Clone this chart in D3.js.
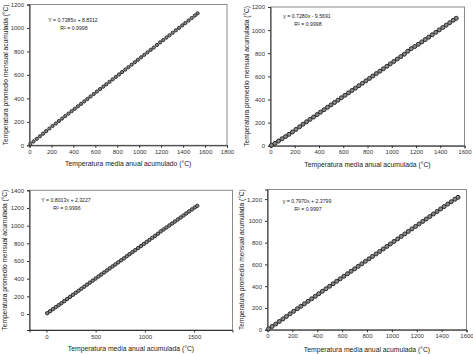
<!DOCTYPE html>
<html>
<head>
<meta charset="utf-8">
<style>
  body { margin: 0; background: #fff; }
</style>
</head>
<body>
<script src="https://cdn.jsdelivr.net/npm/d3@7"></script>
<script>
// accumulated annual mean temperature (x), shared by the four panels
var xAcum = [8, 37, 66, 95, 124, 152, 181, 210, 240, 268, 297, 326, 355, 384, 412, 441, 470, 499,
  528, 556, 585, 614, 643, 672, 700, 729, 758, 787, 816, 844, 873, 902, 931, 960, 988, 1017,
  1046, 1075, 1104, 1132, 1161, 1190, 1219, 1248, 1276, 1305, 1334, 1363, 1392, 1420, 1449, 1478, 1507, 1532];

// accumulated monthly mean temperature, one list per panel
var yPanel1 = [12, 33, 55, 77, 99, 121, 143, 165, 186, 207, 228, 249, 270, 291, 311, 332, 353, 374,
  395, 416, 437, 458, 479, 500, 520, 541, 562, 583, 604, 624, 645, 666, 687, 708, 729, 750,
  771, 792, 813, 833, 855, 877, 897, 918, 938, 959, 980, 1001, 1022, 1042, 1063, 1084, 1106, 1124];
var yPanel2 = [4, 20, 40, 60, 79, 98, 119, 141, 164, 186, 207, 228, 248, 269, 290, 311, 332, 353,
  374, 394, 415, 436, 457, 478, 498, 519, 540, 561, 582, 603, 624, 645, 666, 687, 708, 729,
  750, 771, 792, 817, 840, 858, 877, 898, 918, 939, 960, 981, 1002, 1022, 1043, 1064, 1085, 1102];
var yPanel3 = [9, 32, 55, 78, 100, 122, 146, 170, 194, 217, 240, 263, 286, 309, 332, 355, 378, 401,
  424, 447, 470, 493, 516, 539, 561, 584, 607, 630, 654, 677, 700, 723, 746, 769, 792, 815,
  838, 862, 885, 908, 935, 957, 979, 1002, 1024, 1047, 1070, 1092, 1115, 1138, 1161, 1184, 1206, 1224];
var yPanel4 = [8, 30, 52, 76, 99, 122, 146, 169, 193, 215, 238, 261, 284, 307, 330, 353, 376, 399,
  422, 445, 468, 491, 514, 537, 559, 582, 605, 628, 651, 673, 696, 719, 742, 765, 788, 811,
  834, 857, 880, 903, 926, 949, 972, 995, 1017, 1040, 1063, 1086, 1109, 1131, 1154, 1176, 1199, 1216];

// tick labels
var ticks1X = ["0", "200", "400", "600", "800", "1000", "1200", "1400", "1600", "1800"];
var ticks1Y = ["0", "200", "400", "600", "800", "1000", "1200"];
var ticks2X = ["0", "200", "400", "600", "800", "1000", "1200", "1400", "1600"];
var ticks2Y = ["0", "200", "400", "600", "800", "1000", "1200"];
var ticks3X = ["0", "500", "1000", "1500"];
var ticks3Y = ["0", "200", "400", "600", "800", "1000", "1200", "1400"];
var ticks4X = ["0", "200", "400", "600", "800", "1000", "1200", "1400", "1600"];
var ticks4Y = ["0", "200", "400", "600", "800", "1000", "1,200"];

var equations = [
  ["Y = 0.7385x + 8.8312", "R\u00b2 = 0.9998"],
  ["y = 0.7280x - 9.5691", "R\u00b2 = 0.9998"],
  ["Y = 0.8013x + 2.3227", "R\u00b2 = 0.9996"],
  ["y = 0.7970x + 2.3799", "R\u00b2 = 0.9997"]
];
var yTitle = "Temperatura promedio mensual acumulada (\u00b0C)";
var xTitles = [
  "Temperatura media anual acumulado (\u00b0C)",
  "Temperatura media anual acumulada (\u00b0C)",
  "Temperatura media anual acumulada (\u00b0C)",
  "Temperatura media anual acumulada (\u00b0C)"
];

var font = "'Liberation Sans', Arial, sans-serif";
var ink = "#222";

var svg = d3.select("body").append("svg")
  .attr("width", 473)
  .attr("height", 354);

var panels = [
  { ys: yPanel1, tx: ticks1X, ty: ticks1Y, xd: [0, 1800], yd: [0, 1200],
    xr: [29.5, 227], yr: [145.3, 4.5], ytx: 6, xty: 166, eq: [73, 22], r: 1.6 },
  { ys: yPanel2, tx: ticks2X, ty: ticks2Y, xd: [0, 1600], yd: [0, 1200],
    xr: [270.5, 464.5], yr: [145.7, 7], ytx: 247, xty: 167, eq: [307, 18], r: 2 },
  { ys: yPanel3, tx: ticks3X, ty: ticks3Y, xd: [-172, 1890], yd: [-181, 1400],
    xr: [29.5, 232.5], yr: [330, 190.3], ytx: 5, xty: 351, eq: [66, 202], r: 1.7 },
  { ys: yPanel4, tx: ticks4X, ty: ticks4Y, xd: [0, 1600], yd: [0, 1288],
    xr: [267.5, 466.5], yr: [329.7, 189.5], ytx: 242, xty: 352, eq: [307, 203], r: 2 }
];

panels.forEach(function (p, i) {
  var x = d3.scaleLinear().domain(p.xd).range(p.xr);
  var y = d3.scaleLinear().domain(p.yd).range(p.yr);
  var g = svg.append("g");

  // frame
  g.append("rect")
    .attr("x", p.xr[0]).attr("y", p.yr[1])
    .attr("width", p.xr[1] - p.xr[0]).attr("height", p.yr[0] - p.yr[1])
    .attr("fill", "none").attr("stroke", "#8a8a8a").attr("stroke-width", 1);

  var xAxis = d3.axisBottom(x)
    .tickValues(p.tx.map(function (t) { return +t.replace(",", ""); }))
    .tickFormat(function (d, k) { return p.tx[k]; })
    .tickSize(2.5).tickPadding(2);
  var yAxis = d3.axisLeft(y)
    .tickValues(p.ty.map(function (t) { return +t.replace(",", ""); }))
    .tickFormat(function (d, k) { return p.ty[k]; })
    .tickSize(2.5).tickPadding(3);

  var gx = g.append("g").attr("transform", "translate(0," + p.yr[0] + ")").call(xAxis);
  var gy = g.append("g").attr("transform", "translate(" + p.xr[0] + ",0)").call(yAxis);
  [gx, gy].forEach(function (a) {
    a.select(".domain").attr("stroke", "#333");
    a.selectAll(".tick line").attr("stroke", "#333");
    a.selectAll(".tick text").attr("font-size", 6).attr("fill", "#333")
      .attr("font-family", font);
  });

  // points
  g.append("g").selectAll("circle")
    .data(xAcum)
    .join("circle")
    .attr("cx", function (d) { return x(d); })
    .attr("cy", function (d, k) { return y(p.ys[k]); })
    .attr("r", p.r)
    .attr("fill", "#888")
    .attr("stroke", "#2a2a2a")
    .attr("stroke-width", 1);

  // regression text
  g.append("text")
    .attr("x", p.eq[0]).attr("y", p.eq[1])
    .attr("text-anchor", "middle").attr("font-size", 5.2)
    .attr("font-family", font).attr("fill", ink)
    .text(equations[i][0]);
  g.append("text")
    .attr("x", p.eq[0] + 1).attr("y", p.eq[1] + 7.5)
    .attr("text-anchor", "middle").attr("font-size", 5.2)
    .attr("font-family", font).attr("fill", ink)
    .text(equations[i][1]);

  // titles
  g.append("text")
    .attr("transform", "translate(" + p.ytx + "," + (p.yr[0] + p.yr[1]) / 2 + ") rotate(-90)")
    .attr("text-anchor", "middle").attr("dy", "0.35em").attr("font-size", 6.6)
    .attr("font-family", font).attr("fill", ink)
    .text(yTitle);
  g.append("text")
    .attr("x", (p.xr[0] + p.xr[1]) / 2).attr("y", p.xty)
    .attr("text-anchor", "middle").attr("font-size", 6.8)
    .attr("font-family", font).attr("fill", ink)
    .text(xTitles[i]);
});
</script>
</body>
</html>
